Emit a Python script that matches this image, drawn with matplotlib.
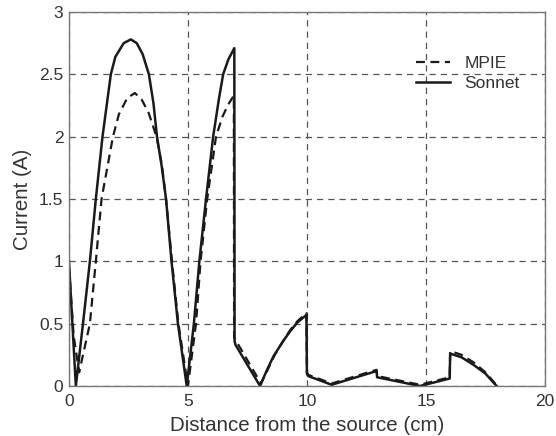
import matplotlib
matplotlib.use("Agg")
import matplotlib.pyplot as plt

plt.rcParams['font.family'] = ['Liberation Sans', 'DejaVu Sans']

# Sonnet (solid)
sonnet_x = [0.0, 0.29, 0.59, 0.88, 1.13, 1.41, 1.76, 1.95, 2.3, 2.6, 2.85, 3.1, 3.36, 3.55, 3.7, 3.9, 4.08,
            4.31, 4.58, 4.95,
            5.25, 5.48, 5.76, 6.06, 6.3, 6.48, 6.7, 6.95, 6.96, 7.0, 8.03, 8.3, 8.6, 9.0, 9.3, 9.6, 9.98,
            10.0, 10.05, 11.04, 12.93, 12.95, 14.75, 16.0, 16.02, 16.5, 17.0, 17.5, 17.97]
sonnet_y = [1.0, 0.0, 0.5, 1.0, 1.5, 2.0, 2.5, 2.64, 2.75, 2.78, 2.75, 2.66, 2.5, 2.27, 2.0, 1.76, 1.5,
            1.0, 0.5, 0.0,
            0.5, 1.0, 1.5, 2.0, 2.3, 2.5, 2.62, 2.71, 0.36, 0.33, 0.0, 0.12, 0.24, 0.36, 0.44, 0.51, 0.57,
            0.1, 0.08, 0.01, 0.12, 0.07, 0.0, 0.06, 0.26, 0.23, 0.17, 0.1, 0.0]

# MPIE (dashed)
mpie_x = [0.0, 0.2, 0.43, 0.88, 1.13, 1.37, 1.85, 2.1, 2.45, 2.77, 3.05, 3.35, 3.68, 3.9, 4.08, 4.33, 4.6, 5.0,
          5.34, 5.53, 5.81, 6.18, 6.45, 6.7, 6.93, 6.94, 7.0, 8.07, 8.35, 8.65, 9.0, 9.3, 9.6, 9.98,
          10.0, 10.05, 11.04, 12.93, 12.95, 14.75, 16.0, 16.02, 16.5, 17.0, 17.5, 18.0]
mpie_y = [0.96, 0.4, 0.11, 0.5, 1.0, 1.5, 2.0, 2.18, 2.31, 2.35, 2.3, 2.19, 2.0, 1.78, 1.5, 1.0, 0.5, 0.0,
          0.5, 1.0, 1.5, 2.0, 2.16, 2.26, 2.33, 0.39, 0.37, 0.02, 0.13, 0.25, 0.36, 0.45, 0.52, 0.585,
          0.11, 0.09, 0.02, 0.13, 0.08, 0.01, 0.07, 0.28, 0.25, 0.19, 0.11, 0.0]

x_ticks = [0, 5, 10, 15, 20]
y_ticks = [0, 0.5, 1, 1.5, 2, 2.5, 3]
y_tick_labels = ['0', '0.5', '1', '1.5', '2', '2.5', '3']

fig = plt.figure(figsize=(5.56, 4.36), dpi=100)
ax = fig.add_axes([0.124, 0.1147, 0.856, 0.8578])

ax.plot(mpie_x, mpie_y, color='#1a1a1a', linestyle=(0, (4, 2.5)), linewidth=1.6, label='MPIE')
ax.plot(sonnet_x, sonnet_y, color='#1a1a1a', linestyle='-', linewidth=1.8, label='Sonnet')

ax.set_xlim(0, 20)
ax.set_ylim(0, 3)
ax.set_xticks(x_ticks)
ax.set_yticks(y_ticks)
ax.set_yticklabels(y_tick_labels)
ax.grid(True, color='#555555', linestyle=(0, (5, 4)), linewidth=0.9)
ax.tick_params(direction='in', length=0, labelsize=12.5, colors='#333333')
ax.tick_params(axis='x', pad=6)
ax.tick_params(axis='y', pad=4)
for sp in ax.spines.values():
    sp.set_color('#777777')
    sp.set_linewidth(1.0)

ax.set_xlabel('Distance from the source (cm)', fontsize=14.8, color='#333333', labelpad=5)
ax.set_ylabel('Current (A)', fontsize=14.8, color='#333333', labelpad=5)

leg = ax.legend(loc='upper right', bbox_to_anchor=(0.972, 0.915), frameon=False, fontsize=12.5,
                handlelength=2.0, handletextpad=0.8, labelspacing=0.28, borderpad=0.2)
for t in leg.get_texts():
    t.set_color('#333333')

fig.savefig('out.png', dpi=100)
